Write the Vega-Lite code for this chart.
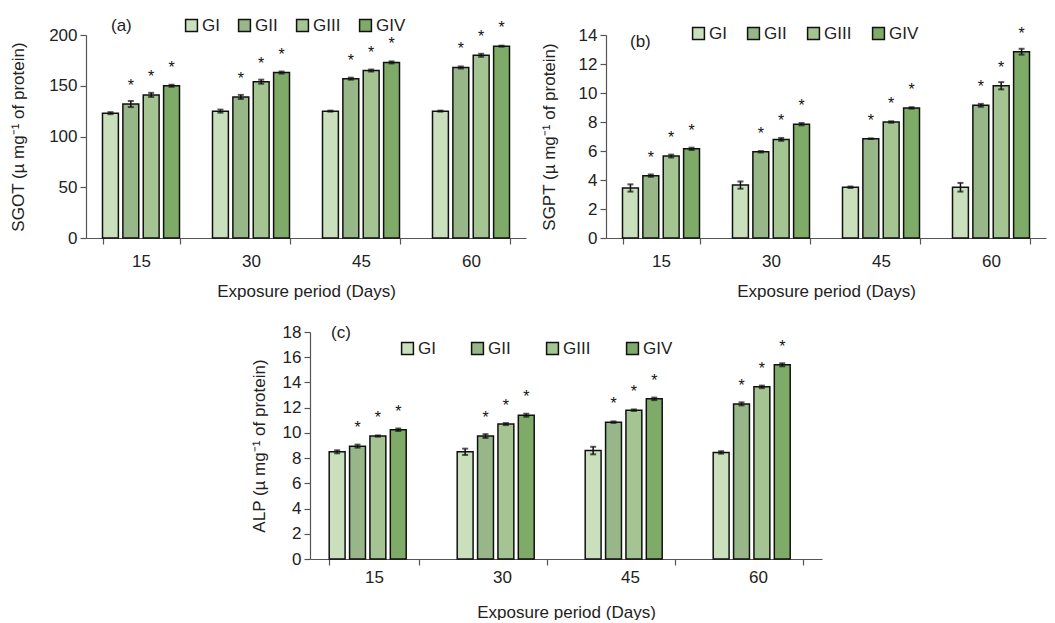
{
  "$schema": "https://vega.github.io/schema/vega-lite/v6.json",
  "background": "white",
  "padding": {"left": 9, "top": 17, "right": 5, "bottom": 0},
  "config": {
    "font": "Liberation Sans",
    "view": {"stroke": null},
    "axis": {"labelFontSize": 17, "titleFontSize": 17, "labelColor": "#222", "titleColor": "#222", "domainColor": "#555", "tickColor": "#555", "domainWidth": 1.2, "tickWidth": 1.2, "grid": false, "titleFontWeight": "normal", "labelFont": "Liberation Sans", "titleFont": "Liberation Sans"},
    "legend": {"orient": "none", "direction": "horizontal", "columns": 4, "gridAlign": "none", "symbolType": "square", "symbolSize": 140, "symbolStrokeColor": "#111", "symbolStrokeWidth": 1.5, "symbolOpacity": 1, "labelFontSize": 17, "labelColor": "#222", "labelOffset": 2, "title": null},
    "title": {"anchor": "start", "frame": "group", "fontSize": 17, "fontWeight": "normal", "color": "#222", "baseline": "middle", "offset": 0},
    "bar": {"stroke": "#111", "strokeWidth": 1.5}
  },
  "datasets": {
    "sgot": [
      {"day": 15, "group": "GI", "value": 123, "err": 1, "sig": ""},
      {"day": 15, "group": "GII", "value": 132, "err": 3, "sig": "*"},
      {"day": 15, "group": "GIII", "value": 141, "err": 2, "sig": "*"},
      {"day": 15, "group": "GIV", "value": 150, "err": 1, "sig": "*"},
      {"day": 30, "group": "GI", "value": 125, "err": 1.5, "sig": ""},
      {"day": 30, "group": "GII", "value": 139, "err": 2, "sig": "*"},
      {"day": 30, "group": "GIII", "value": 154, "err": 2, "sig": "*"},
      {"day": 30, "group": "GIV", "value": 163, "err": 1, "sig": "*"},
      {"day": 45, "group": "GI", "value": 125, "err": 0.5, "sig": ""},
      {"day": 45, "group": "GII", "value": 157, "err": 1, "sig": "*"},
      {"day": 45, "group": "GIII", "value": 165, "err": 1, "sig": "*"},
      {"day": 45, "group": "GIV", "value": 173, "err": 1, "sig": "*"},
      {"day": 60, "group": "GI", "value": 125, "err": 0.5, "sig": ""},
      {"day": 60, "group": "GII", "value": 168, "err": 1, "sig": "*"},
      {"day": 60, "group": "GIII", "value": 180, "err": 1.5, "sig": "*"},
      {"day": 60, "group": "GIV", "value": 189, "err": 0.5, "sig": "*"}
    ],
    "sgpt": [
      {"day": 15, "group": "GI", "value": 3.45, "err": 0.25, "sig": ""},
      {"day": 15, "group": "GII", "value": 4.3, "err": 0.08, "sig": "*"},
      {"day": 15, "group": "GIII", "value": 5.65, "err": 0.1, "sig": "*"},
      {"day": 15, "group": "GIV", "value": 6.15, "err": 0.08, "sig": "*"},
      {"day": 30, "group": "GI", "value": 3.65, "err": 0.25, "sig": ""},
      {"day": 30, "group": "GII", "value": 5.95, "err": 0.05, "sig": "*"},
      {"day": 30, "group": "GIII", "value": 6.8, "err": 0.1, "sig": "*"},
      {"day": 30, "group": "GIV", "value": 7.85, "err": 0.08, "sig": "*"},
      {"day": 45, "group": "GI", "value": 3.5, "err": 0.05, "sig": ""},
      {"day": 45, "group": "GII", "value": 6.85, "err": 0.02, "sig": "*"},
      {"day": 45, "group": "GIII", "value": 8.0, "err": 0.05, "sig": "*"},
      {"day": 45, "group": "GIV", "value": 8.97, "err": 0.05, "sig": "*"},
      {"day": 60, "group": "GI", "value": 3.5, "err": 0.3, "sig": ""},
      {"day": 60, "group": "GII", "value": 9.15, "err": 0.1, "sig": "*"},
      {"day": 60, "group": "GIII", "value": 10.5, "err": 0.25, "sig": "*"},
      {"day": 60, "group": "GIV", "value": 12.85, "err": 0.2, "sig": "*"}
    ],
    "alp": [
      {"day": 15, "group": "GI", "value": 8.5, "err": 0.12, "sig": ""},
      {"day": 15, "group": "GII", "value": 8.95, "err": 0.12, "sig": "*"},
      {"day": 15, "group": "GIII", "value": 9.75, "err": 0.05, "sig": "*"},
      {"day": 15, "group": "GIV", "value": 10.25, "err": 0.1, "sig": "*"},
      {"day": 30, "group": "GI", "value": 8.5, "err": 0.25, "sig": ""},
      {"day": 30, "group": "GII", "value": 9.75, "err": 0.15, "sig": "*"},
      {"day": 30, "group": "GIII", "value": 10.7, "err": 0.08, "sig": "*"},
      {"day": 30, "group": "GIV", "value": 11.4, "err": 0.12, "sig": "*"},
      {"day": 45, "group": "GI", "value": 8.6, "err": 0.3, "sig": ""},
      {"day": 45, "group": "GII", "value": 10.85, "err": 0.06, "sig": "*"},
      {"day": 45, "group": "GIII", "value": 11.8, "err": 0.06, "sig": "*"},
      {"day": 45, "group": "GIV", "value": 12.7, "err": 0.1, "sig": "*"},
      {"day": 60, "group": "GI", "value": 8.45, "err": 0.1, "sig": ""},
      {"day": 60, "group": "GII", "value": 12.3, "err": 0.12, "sig": "*"},
      {"day": 60, "group": "GIII", "value": 13.65, "err": 0.1, "sig": "*"},
      {"day": 60, "group": "GIV", "value": 15.4, "err": 0.12, "sig": "*"}
    ]
  },
  "center": true,
  "spacing": 24,
  "resolve": {"scale": {"color": "independent"}, "legend": {"color": "independent"}},
  "vconcat": [
    {
      "bounds": "flush",
      "spacing": 80,
      "resolve": {"scale": {"color": "independent"}, "legend": {"color": "independent"}},
      "hconcat": [
        {
          "width": 440, "height": 203,
          "data": {"name": "sgot"},
          "title": {"text": "(a)", "dx": 25, "dy": 22},
          "encoding": {
            "x": {"field": "day", "type": "ordinal", "scale": {"paddingInner": 0.3, "paddingOuter": 0.15}, "axis": {"title": "Exposure period (Days)", "labelAngle": 0, "tickBand": "extent", "tickSize": 6, "labelPadding": 9, "titlePadding": 14}},
            "xOffset": {"field": "group", "type": "nominal", "sort": ["GI", "GII", "GIII", "GIV"], "scale": {"paddingInner": 0.22}},
            "y": {"field": "value", "type": "quantitative", "scale": {"domain": [0, 200], "nice": false}, "axis": {"values": [0, 50, 100, 150, 200], "title": "SGOT (µ mg⁻¹ of protein)", "tickSize": 6, "labelPadding": 3, "titlePadding": 21}}
          },
          "layer": [
            {
              "mark": "bar",
              "encoding": {
                "color": {"field": "group", "type": "nominal", "scale": {"domain": ["GI", "GII", "GIII", "GIV"], "range": ["#cadfbc", "#97b788", "#a4c492", "#7fab68"]}, "legend": {"legendX": 97, "legendY": -18, "columnPadding": 15}}
              }
            },
            {
              "mark": {"type": "errorbar", "color": "#111", "ticks": {"size": 6, "thickness": 2}, "thickness": 1.5},
              "encoding": {"yError": {"field": "err"}}
            },
            {
              "mark": {"type": "text", "dy": -18, "fontSize": 16, "baseline": "middle", "color": "#111"},
              "encoding": {"text": {"field": "sig"}}
            }
          ]
        },
        {
          "width": 440, "height": 203,
          "data": {"name": "sgpt"},
          "title": {"text": "(b)", "dx": 24, "dy": 30},
          "encoding": {
            "x": {"field": "day", "type": "ordinal", "scale": {"paddingInner": 0.3, "paddingOuter": 0.15}, "axis": {"title": "Exposure period (Days)", "labelAngle": 0, "tickBand": "extent", "tickSize": 6, "labelPadding": 9, "titlePadding": 14}},
            "xOffset": {"field": "group", "type": "nominal", "sort": ["GI", "GII", "GIII", "GIV"], "scale": {"paddingInner": 0.22}},
            "y": {"field": "value", "type": "quantitative", "scale": {"domain": [0, 14], "nice": false}, "axis": {"values": [0, 2, 4, 6, 8, 10, 12, 14], "title": "SGPT (µ mg⁻¹ of protein)", "tickSize": 6, "labelPadding": 3, "titlePadding": 20}}
          },
          "layer": [
            {
              "mark": "bar",
              "encoding": {
                "color": {"field": "group", "type": "nominal", "scale": {"domain": ["GI", "GII", "GIII", "GIV"], "range": ["#cadfbc", "#97b788", "#a4c492", "#7fab68"]}, "legend": {"legendX": 84, "legendY": -10, "columnPadding": 17}}
              }
            },
            {
              "mark": {"type": "errorbar", "color": "#111", "ticks": {"size": 6, "thickness": 2}, "thickness": 1.5},
              "encoding": {"yError": {"field": "err"}}
            },
            {
              "mark": {"type": "text", "dy": -18, "fontSize": 16, "baseline": "middle", "color": "#111"},
              "encoding": {"text": {"field": "sig"}}
            }
          ]
        }
      ]
    },
    {
      "width": 512, "height": 227,
      "data": {"name": "alp"},
      "title": {"text": "(c)", "dx": 21, "dy": 23},
      "encoding": {
        "x": {"field": "day", "type": "ordinal", "scale": {"paddingInner": 0.3, "paddingOuter": 0.15}, "axis": {"title": "Exposure period (Days)", "labelAngle": 0, "tickBand": "extent", "tickSize": 6, "labelPadding": 4, "titlePadding": 19}},
        "xOffset": {"field": "group", "type": "nominal", "sort": ["GI", "GII", "GIII", "GIV"], "scale": {"paddingInner": 0.22}},
        "y": {"field": "value", "type": "quantitative", "scale": {"domain": [0, 18], "nice": false}, "axis": {"values": [0, 2, 4, 6, 8, 10, 12, 14, 16, 18], "title": "ALP (µ mg⁻¹ of protein)", "tickSize": 6, "labelPadding": 3, "titlePadding": 14}}
      },
      "layer": [
        {
          "mark": "bar",
          "encoding": {
            "color": {"field": "group", "type": "nominal", "scale": {"domain": ["GI", "GII", "GIII", "GIV"], "range": ["#cadfbc", "#97b788", "#a4c492", "#7fab68"]}, "legend": {"legendX": 89, "legendY": 8, "columnPadding": 32}}
          }
        },
        {
          "mark": {"type": "errorbar", "color": "#111", "ticks": {"size": 6, "thickness": 2}, "thickness": 1.5},
          "encoding": {"yError": {"field": "err"}}
        },
        {
          "mark": {"type": "text", "dy": -18, "fontSize": 16, "baseline": "middle", "color": "#111"},
          "encoding": {"text": {"field": "sig"}}
        }
      ]
    }
  ]
}
